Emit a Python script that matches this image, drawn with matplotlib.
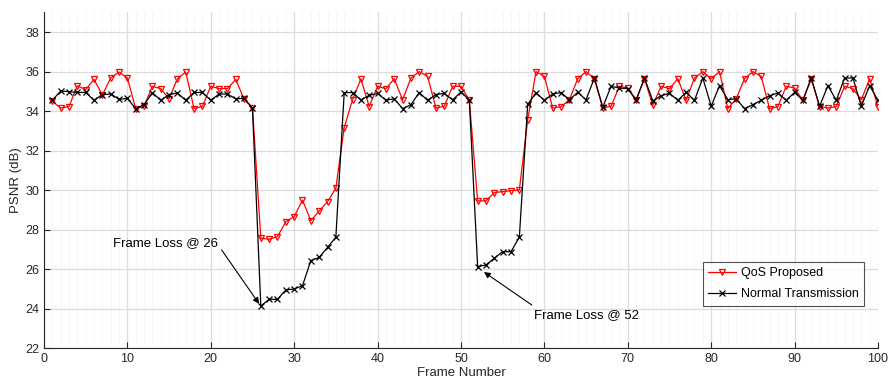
import matplotlib
matplotlib.use("Agg")
import matplotlib.pyplot as plt
import numpy as np
from matplotlib.ticker import MultipleLocator

plt.rcParams['font.family'] = ['Liberation Sans', 'DejaVu Sans']

frames = list(range(1, 101))

qos_proposed = [
    34.50, 34.16, 34.23, 35.29, 35.09, 35.61, 34.82, 35.68, 35.98, 35.68,
    34.13, 34.25, 35.26, 35.14, 34.63, 35.64, 35.98, 34.13, 34.25, 35.26,
    35.14, 35.14, 35.61, 34.60, 34.18, 27.57, 27.52, 27.65, 28.41, 28.66,
    29.50, 28.46, 28.95, 29.42, 30.10, 33.17, 34.58, 35.64, 34.23, 35.26,
    35.14, 35.64, 34.57, 35.68, 36.00, 35.76, 34.16, 34.25, 35.26, 35.26,
    34.57, 29.46, 29.46, 29.88, 29.93, 29.98, 30.01, 33.56, 36.00, 35.76,
    34.16, 34.23, 34.58, 35.64, 36.00, 35.64, 34.16, 34.25, 35.26, 35.17,
    34.58, 35.64, 34.30, 35.26, 35.14, 35.64, 34.55, 35.68, 36.00, 35.64,
    36.00, 34.13, 34.63, 35.64, 36.00, 35.76, 34.13, 34.23, 35.26, 35.17,
    34.55, 35.64, 34.23, 34.16, 34.23, 35.26, 35.14, 34.58, 35.64, 34.23,
]

normal_transmission = [
    34.55, 35.02, 34.99, 34.95, 34.95, 34.55, 34.84, 34.87, 34.60, 34.65,
    34.13, 34.33, 34.94, 34.55, 34.84, 34.92, 34.55, 34.95, 34.95, 34.55,
    34.87, 34.87, 34.62, 34.65, 34.15, 24.14, 24.48, 24.48, 24.95, 25.00,
    25.17, 26.44, 26.60, 27.11, 27.62, 34.94, 34.94, 34.57, 34.80, 34.90,
    34.55, 34.63, 34.13, 34.33, 34.94, 34.55, 34.84, 34.90, 34.57, 34.97,
    34.57, 26.13, 26.22, 26.56, 26.89, 26.89, 27.62, 34.34, 34.93, 34.55,
    34.87, 34.94, 34.58, 34.95, 34.58, 35.68, 34.20, 35.26, 35.17, 35.14,
    34.55, 35.68, 34.53, 34.78, 34.91, 34.55, 34.95, 34.55, 35.68, 34.25,
    35.29, 34.58, 34.63, 34.13, 34.33, 34.55, 34.78, 34.92, 34.55, 34.95,
    34.55, 35.68, 34.25, 35.29, 34.55, 35.68, 35.68, 34.25, 35.29, 34.55,
]

fig = plt.figure(figsize=(8.88, 3.87), dpi=100)
ax = fig.add_axes([0.0495, 0.100, 0.9392, 0.868])

ax.plot(frames, qos_proposed, color='#ff0000', lw=0.9, marker='v', ms=5,
        mfc='none', mec='#ff0000', mew=0.9, label='QoS Proposed', zorder=3)
ax.plot(frames, normal_transmission, color='black', lw=0.9, marker='x', ms=5,
        mew=0.9, label='Normal Transmission', zorder=3)

ax.set_xlim(0, 100)
ax.set_ylim(22, 39)
ax.xaxis.set_major_locator(MultipleLocator(10))
ax.xaxis.set_minor_locator(MultipleLocator(1))
ax.yaxis.set_major_locator(MultipleLocator(2))

ax.grid(which='major', color='#dcdcdc', lw=0.9, ls='-', zorder=0)
ax.grid(which='minor', axis='x', color='#e4e4e4', lw=0.6, ls=(0, (1, 2)), zorder=0)
ax.set_axisbelow(True)

for s in ['top', 'right']:
    ax.spines[s].set_visible(False)
for s in ['left', 'bottom']:
    ax.spines[s].set_color('#262626')
    ax.spines[s].set_linewidth(0.8)

ax.tick_params(which='major', direction='in', length=4, width=0.8,
               colors='#262626', labelsize=9, labelcolor='#262626')
ax.tick_params(which='minor', length=0)

ax.set_xlabel('Frame Number', fontsize=9.5, color='#262626', labelpad=1)
ax.set_ylabel('PSNR (dB)', fontsize=9.5, color='#262626', labelpad=2)

ax.text(14.6, 27.33, 'Frame Loss @ 26', fontsize=9.5, ha='center', va='center')
ax.annotate('', xy=(25.8, 24.25), xytext=(21.3, 26.98),
            arrowprops=dict(arrowstyle='-|>', color='black', lw=0.8,
                            mutation_scale=9, shrinkA=0, shrinkB=0))
ax.text(65.0, 23.69, 'Frame Loss @ 52', fontsize=9.5, ha='center', va='center')
ax.annotate('', xy=(52.76, 25.86), xytext=(58.5, 24.19),
            arrowprops=dict(arrowstyle='-|>', color='black', lw=0.8,
                            mutation_scale=9, shrinkA=0, shrinkB=0))

leg = ax.legend(loc='upper left', bbox_to_anchor=(0.79, 0.258), fontsize=9,
                frameon=True, fancybox=False, edgecolor='#262626',
                handlelength=2.2, borderpad=0.45, labelspacing=0.7,
                handletextpad=0.4, borderaxespad=0)
leg.get_frame().set_linewidth(0.8)

fig.savefig('out.png', dpi=100)
